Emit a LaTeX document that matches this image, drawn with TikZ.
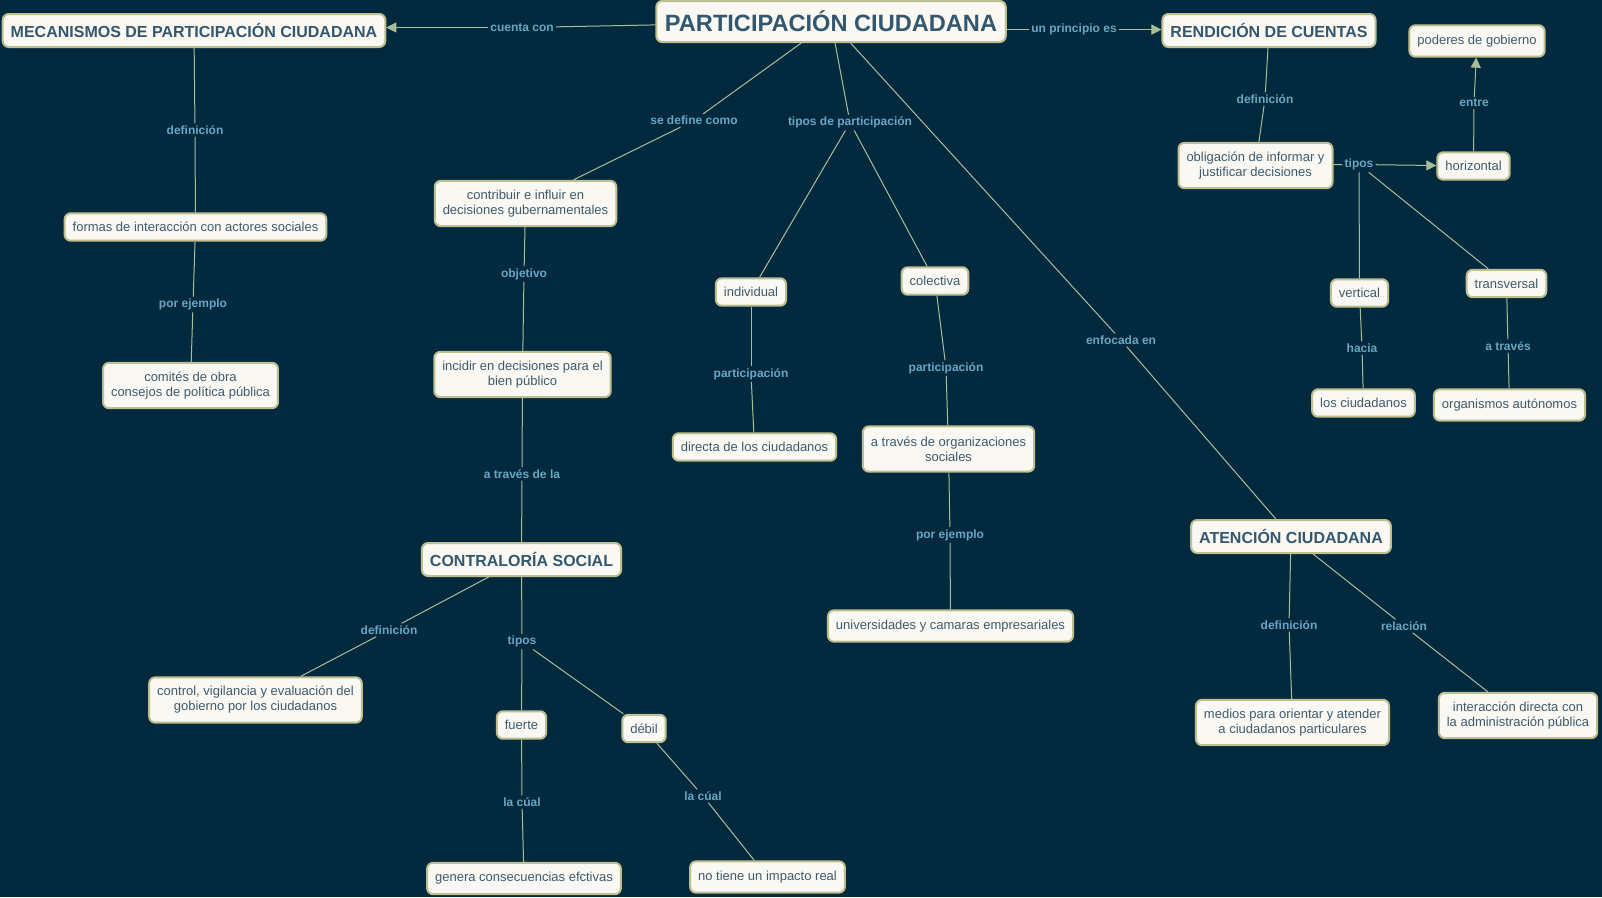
\documentclass[tikz,border=0pt]{standalone}
\usepackage{fontspec}
\setmainfont{Liberation Sans}
\usetikzlibrary{arrows.meta}
\definecolor{bg}{HTML}{03293F}
\definecolor{nfill}{HTML}{FAF8F2}
\definecolor{nborder}{HTML}{BDBF8E}
\definecolor{ntext}{HTML}{3E5B6E}
\definecolor{ttext}{HTML}{33576E}
\definecolor{ltext}{HTML}{68A6C2}
\definecolor{lline}{HTML}{A7BF99}
\begin{document}
\begin{tikzpicture}[x=0.75pt,y=-0.75pt,
 concept/.style={draw=nborder, line width=1.5pt, fill=nfill, rounded corners=4.5pt, text=ntext,
   font=\fontsize{9.75}{11.25}\selectfont, inner xsep=6pt, inner ysep=2pt, align=center, minimum height=20.6pt},
 twoline/.style={minimum height=34pt},
 tall/.style={minimum height=23.5pt},
 title/.style={concept, text=ttext, font=\fontsize{12}{14}\bfseries\selectfont, minimum height=24.75pt},
 lbl/.style={fill=bg, text=ltext, font=\fontsize{9}{10}\bfseries\selectfont, inner sep=1.5pt},
 link/.style={draw=lline, line width=0.75pt},
 arrowlink/.style={link, -{Triangle[length=7.5pt,width=7.5pt]}},
]
\fill[bg] (0,0) rectangle (1602,897);
\useasboundingbox (0,0) rectangle (1602,897);

% concepts
\node[title, font=\fontsize{17.7}{20}\bfseries\selectfont, minimum height=30.75pt, inner xsep=6.5pt] (pc) at (831,21.5) {PARTICIPACIÓN CIUDADANA};
\node[title] (mec) at (194,30.5) {MECANISMOS DE PARTICIPACIÓN CIUDADANA};
\node[title] (ren) at (1269,30.5) {RENDICIÓN DE CUENTAS};
\node[title] (ate) at (1291,536.5) {ATENCIÓN CIUDADANA};
\node[title] (con) at (521.5,559.5) {CONTRALORÍA SOCIAL};

\node[concept] (formas) at (195.5,227) {formas de interacción con actores sociales};
\node[concept, twoline] (comites) at (190.5,385.5) {comités de obra\\consejos de política pública};
\node[concept, twoline] (contrib) at (525.5,203.5) {contribuir e influir en\\decisiones gubernamentales};
\node[concept, twoline] (incidir) at (522.5,374.5) {incidir en decisiones para el\\bien público};
\node[concept] (indiv) at (751,292) {individual};
\node[concept] (colec) at (935,281) {colectiva};
\node[concept] (directa) at (754.5,447) {directa de los ciudadanos};
\node[concept, twoline] (orgs) at (948.5,449) {a través de organizaciones\\sociales};
\node[concept, tall] (univ) at (950.5,626) {universidades y camaras empresariales};
\node[concept, twoline] (oblig) at (1255.5,165.5) {obligación de informar y\\justificar decisiones};
\node[concept] (horiz) at (1473.5,166) {horizontal};
\node[concept, tall] (poderes) at (1477,41) {poderes de gobierno};
\node[concept] (vert) at (1359.5,293) {vertical};
\node[concept] (transv) at (1506.5,283.5) {transversal};
\node[concept] (losciud) at (1363.5,403) {los ciudadanos};
\node[concept, tall] (organ) at (1509.5,405) {organismos autónomos};
\node[concept, twoline] (control) at (255.5,700) {control, vigilancia y evaluación del\\gobierno por los ciudadanos};
\node[concept] (fuerte) at (521.5,725) {fuerte};
\node[concept] (debil) at (644,728.5) {débil};
\node[concept, tall] (genera) at (524,878.5) {genera consecuencias efctivas};
\node[concept, tall] (noimp) at (767.5,877) {no tiene un impacto real};
\node[concept, twoline] (medios) at (1292.5,722.5) {medios para orientar y atender\\a ciudadanos particulares};
\node[concept, twoline] (interac) at (1518,715.5) {interacción directa con\\la administración pública};

% linking phrases
\node[lbl] (lcuenta) at (522,27.5) {cuenta con};
\node[lbl] (lprin) at (1074,29.6) {un principio es};
\node[lbl] (lsedef) at (694,120.5) {se define como};
\node[lbl] (ltipos) at (850,122.6) {tipos de participación};
\node[lbl] (lenf) at (1121,340) {enfocada en};
\node[lbl] (ldefa) at (195,130) {definición};
\node[lbl] (lejea) at (193,304.5) {por ejemplo};
\node[lbl] (lobj) at (524,274) {objetivo};
\node[lbl] (latra) at (522,474) {a través de la};
\node[lbl] (lparta) at (751,374) {participación};
\node[lbl] (lpartb) at (946,368) {participación};
\node[lbl] (lejeb) at (950,535) {por ejemplo};
\node[lbl] (ldefb) at (1265,99) {definición};
\node[lbl] (ltiposb) at (1359,164.5) {tipos};
\node[lbl] (lentre) at (1474,103) {entre};
\node[lbl] (lhacia) at (1362,348) {hacia};
\node[lbl] (latrb) at (1508,346) {a través};
\node[lbl] (ldefc) at (389,630) {definición};
\node[lbl] (ltiposc) at (522,641.6) {tipos};
\node[lbl] (lcuala) at (522,802) {la cúal};
\node[lbl] (lcualb) at (703,796) {la cúal};
\node[lbl] (ldefd) at (1289,625) {definición};
\node[lbl] (lrel) at (1404,626) {relación};

% connectors
\draw[link] (pc) -- (lcuenta);
\draw[arrowlink] (lcuenta) -- (mec.east |- lcuenta);
\draw[link] (pc.east |- lprin) -- (lprin);
\draw[arrowlink] (lprin) -- (ren.west |- lprin);
\draw[link] (pc) -- (lsedef);
\draw[link] (lsedef) -- (contrib);
\draw[link] (pc) -- (ltipos);
\draw[link] (ltipos) -- (indiv);
\draw[link] (ltipos) -- (colec);
\draw[link] (pc) -- (lenf);
\draw[link] (lenf) -- (ate);
\draw[link] (mec) -- (ldefa);
\draw[link] (ldefa) -- (formas);
\draw[link] (formas) -- (lejea);
\draw[link] (lejea) -- (comites);
\draw[link] (contrib) -- (lobj);
\draw[link] (lobj) -- (incidir);
\draw[link] (incidir) -- (latra);
\draw[link] (latra) -- (con);
\draw[link] (indiv) -- (lparta);
\draw[link] (lparta) -- (directa);
\draw[link] (colec) -- (lpartb);
\draw[link] (lpartb) -- (orgs);
\draw[link] (orgs) -- (lejeb);
\draw[link] (lejeb) -- (univ);
\draw[link] (ren) -- (ldefb);
\draw[link] (ldefb) -- (oblig);
\draw[link] (oblig) -- (ltiposb);
\draw[arrowlink] (ltiposb) -- (horiz);
\draw[link] (ltiposb) -- (vert);
\draw[link] (ltiposb) -- (transv);
\draw[link] (horiz) -- (lentre);
\draw[arrowlink] (lentre) -- (poderes);
\draw[link] (vert) -- (lhacia);
\draw[link] (lhacia) -- (losciud);
\draw[link] (transv) -- (latrb);
\draw[link] (latrb) -- (organ);
\draw[link] (con) -- (ldefc);
\draw[link] (ldefc) -- (control);
\draw[link] (con) -- (ltiposc);
\draw[link] (ltiposc) -- (fuerte);
\draw[link] (ltiposc) -- (debil);
\draw[link] (fuerte) -- (lcuala);
\draw[link] (lcuala) -- (genera);
\draw[link] (debil) -- (lcualb);
\draw[link] (lcualb) -- (noimp);
\draw[link] (ate) -- (ldefd);
\draw[link] (ldefd) -- (medios);
\draw[link] (ate) -- (lrel);
\draw[link] (lrel) -- (interac);
\end{tikzpicture}
\end{document}
